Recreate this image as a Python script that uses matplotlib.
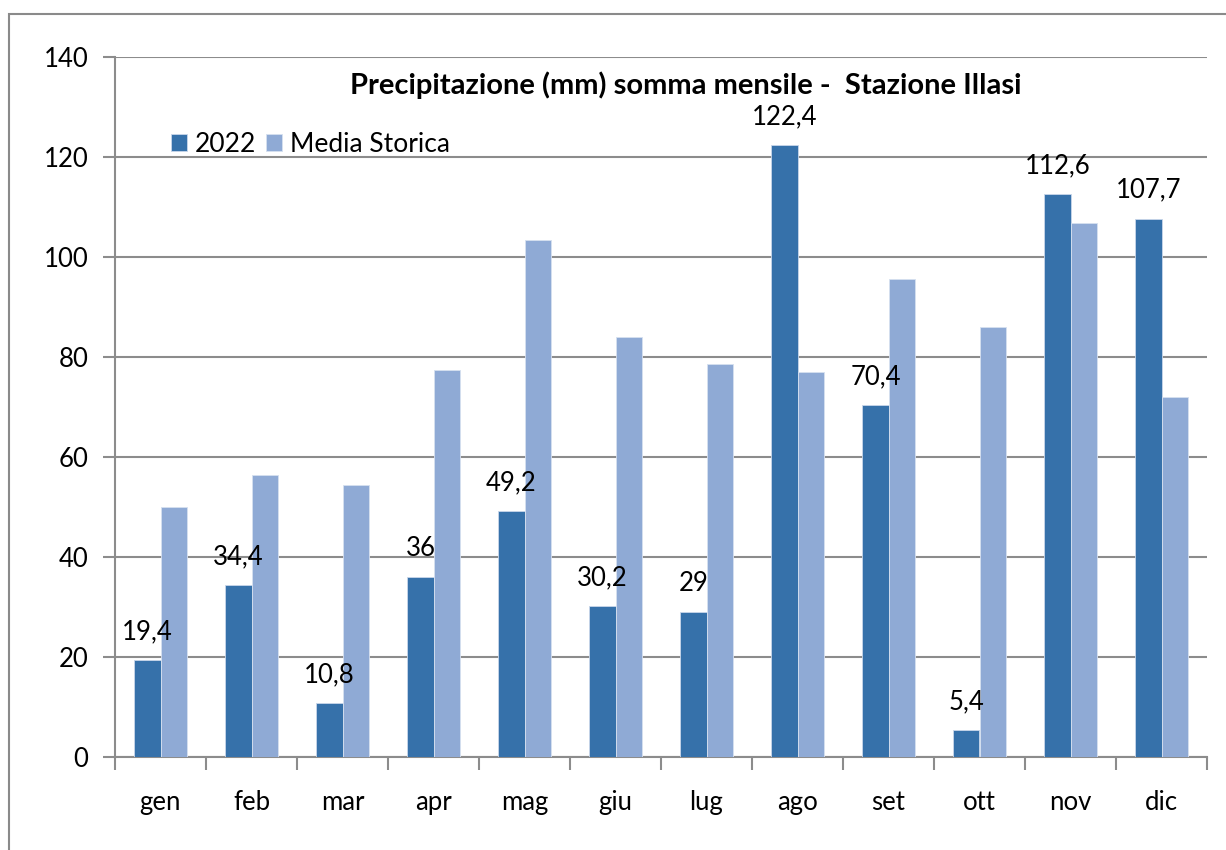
import matplotlib.pyplot as plt
import numpy as np
from matplotlib.patches import Rectangle

plt.rcParams['font.family'] = ['Lato', 'DejaVu Sans']

# data
mesi = ["gen", "feb", "mar", "apr", "mag", "giu", "lug", "ago", "set", "ott", "nov", "dic"]
pioggia_2022 = [19.4, 34.4, 10.8, 36, 49.2, 30.2, 29, 122.4, 70.4, 5.4, 112.6, 107.7]
media_storica = [50.0, 56.5, 54.4, 77.4, 103.5, 84.0, 78.6, 77.0, 95.6, 86.1, 106.9, 72.0]

DARK = "#3671aa"
LIGHT = "#8faad5"
GRID = "#8c8c8c"

W, H = 1226, 850
fig = plt.figure(figsize=(W/100, H/100), dpi=100)
ax = fig.add_axes([115/W, 1-757/H, (1207-115)/W, (757-57)/H])

# outer chart border (only left/top visible)
fig.patches.append(Rectangle((9/W, -0.1), 1.2, (H-14)/H + 0.1, transform=fig.transFigure,
                             fill=False, edgecolor="#8a8a8a", linewidth=1.5))

x = np.arange(len(mesi))
bw = 0.286
ax.bar(x - bw/2, pioggia_2022, bw, color=DARK, edgecolor="#c9d7ea", linewidth=0.6, label="2022", zorder=3)
ax.bar(x + bw/2, media_storica, bw, color=LIGHT, edgecolor="#d6e0f0", linewidth=0.6, label="Media Storica", zorder=3)

for xi, v in zip(x, pioggia_2022):
    lab = f"{v:g}".replace(".", ",")
    ax.text(xi - bw/2, v + 4.2, lab, ha="center", va="baseline", fontsize=18.5, zorder=4)

ax.set_xlim(-0.5, len(mesi) - 0.5)
ax.set_ylim(0, 140)
ax.set_yticks(range(0, 141, 20))
ax.yaxis.grid(True, color=GRID, linewidth=1.5, zorder=0)
ax.set_xticks(x)
ax.set_xticklabels(mesi, fontsize=18.5)
ax.set_xticks(np.arange(-0.5, len(mesi), 1), minor=True)
ax.tick_params(axis="x", which="major", length=0, pad=24)
ax.tick_params(axis="x", which="minor", length=9, width=1.5, color=GRID, direction="out")
ax.tick_params(axis="y", length=9, width=1.5, color=GRID, labelsize=18.5, pad=10)

for s in ["top", "right"]:
    ax.spines[s].set_visible(False)
for s in ["left", "bottom"]:
    ax.spines[s].set_color(GRID)
    ax.spines[s].set_linewidth(1.5)

ax.text(0.523, 0.96, "Precipitazione (mm) somma mensile -  Stazione Illasi", transform=ax.transAxes,
        ha="center", va="center", fontsize=21, fontweight="bold")

ax.legend(loc="upper left", bbox_to_anchor=(0.051, 0.893), frameon=False, fontsize=19,
          handlelength=0.6, handleheight=0.6, handletextpad=0.3, columnspacing=0.4, ncol=2,
          borderaxespad=0, borderpad=0)

fig.savefig("out.png", dpi=100)
